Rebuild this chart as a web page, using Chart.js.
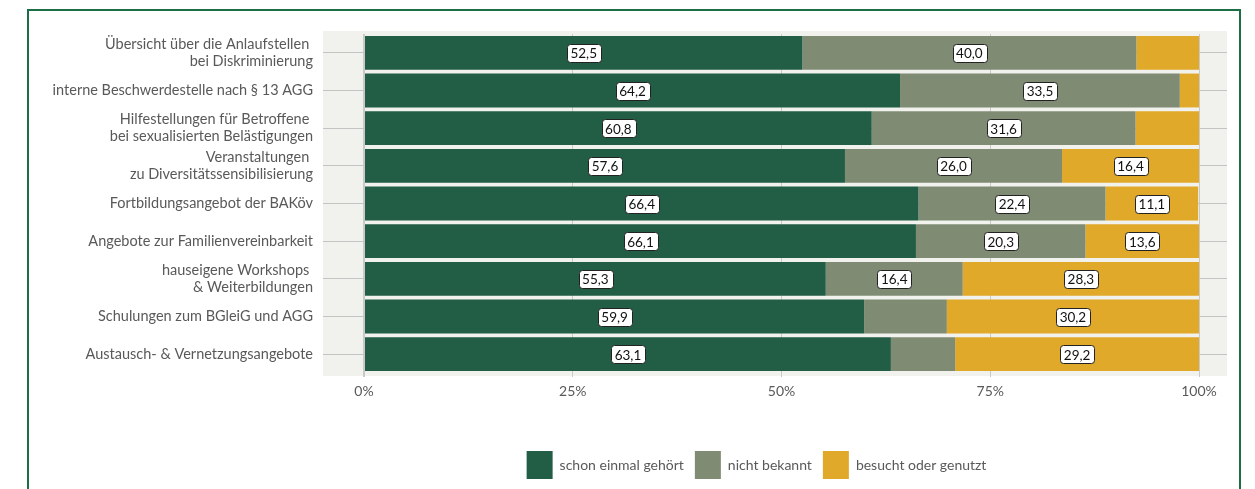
<!DOCTYPE html>
<html lang="de">
<head>
<meta charset="utf-8">
<script src="https://cdn.jsdelivr.net/npm/chart.js@4.4.1/dist/chart.umd.min.js"></script>
<style>
html,body{margin:0;padding:0;background:#fff;}
body{width:1255px;height:489px;position:relative;overflow:hidden;}
#frame{position:absolute;left:27px;top:9px;width:1210px;height:520px;border:2px solid #1e6e45;}
#wrap{position:absolute;left:0;top:0;width:1255px;height:489px;}
</style>
</head>
<body>
<div id="frame"></div>
<div id="wrap"><canvas id="chart"></canvas></div>
<script>
const categories = [
    ["Übersicht über die Anlaufstellen ", "bei Diskriminierung"],
    "interne Beschwerdestelle nach § 13 AGG",
    ["Hilfestellungen für Betroffene ", "bei sexualisierten Belästigungen"],
    ["Veranstaltungen ", "zu Diversitätssensibilisierung"],
    "Fortbildungsangebot der BAKöv",
    "Angebote zur Familienvereinbarkeit",
    ["hauseigene Workshops ", "& Weiterbildungen"],
    "Schulungen zum BGleiG und AGG",
    "Austausch- & Vernetzungsangebote"
];
const gehoert      = [52.5, 64.2, 60.8, 57.6, 66.4, 66.1, 55.3, 59.9, 63.1];
const nichtBekannt = [40.0, 33.5, 31.6, 26.0, 22.4, 20.3, 16.4,  9.9,  7.7];
const genutzt      = [ 7.5,  2.3,  7.6, 16.4, 11.1, 13.6, 28.3, 30.2, 29.2];
const seriesNames  = ["schon einmal gehört", "nicht bekannt", "besucht oder genutzt"];
const tickValues   = [0, 25, 50, 75, 100];

const FONT = "Lato";
const GREY = "#595959";

/* light panel behind the plot */
const plotBackground = {
    id: "plotBackground",
    beforeDraw(chart){
        const {ctx, chartArea:a} = chart;
        ctx.save();
        ctx.fillStyle = "#f1f2ee";
        ctx.fillRect(a.left - 41, a.top - 3, a.right - a.left + 69, a.bottom - a.top + 6);
        ctx.restore();
    }
};

/* boxed value labels (small segments stay unlabelled) */
const valueLabels = {
    id: "valueLabels",
    afterDatasetsDraw(chart){
        const ctx = chart.ctx;
        ctx.save();
        ctx.font = "13.5px " + FONT;
        ctx.textAlign = "center";
        ctx.textBaseline = "middle";
        chart.data.datasets.forEach((ds, i) => {
            chart.getDatasetMeta(i).data.forEach((bar, j) => {
                const v = ds.data[j];
                if(v < 10) return;
                const txt = v.toFixed(1).replace(".", ",");
                const w = ctx.measureText(txt).width + 7;
                const h = 18;
                const cx = (bar.x + bar.base) / 2;
                ctx.beginPath();
                ctx.roundRect(Math.round(cx - w/2) + 0.5, Math.round(bar.y - h/2) + 0.5, Math.round(w), h, 3);
                ctx.fillStyle = "#fff";
                ctx.fill();
                ctx.lineWidth = 1;
                ctx.strokeStyle = "#222";
                ctx.stroke();
                ctx.fillStyle = "#111";
                ctx.fillText(txt, cx, bar.y + 1);
            });
        });
        ctx.restore();
    }
};

/* nudge the legend to the right, like the original */
const legendShift = {
    id: "legendShift",
    afterLayout(chart){
        chart.legend.left += 143;
        chart.legend.right += 143;
    }
};

new Chart(document.getElementById("chart"), {
    type: "bar",
    data: {
        labels: categories,
        datasets: [
            {label: seriesNames[0], data: gehoert,      backgroundColor: "#215e45"},
            {label: seriesNames[1], data: nichtBekannt, backgroundColor: "#7f8c73"},
            {label: seriesNames[2], data: genutzt,      backgroundColor: "#e1a929"}
        ]
    },
    options: {
        indexAxis: "y",
        responsive: true,
        maintainAspectRatio: false,
        animation: false,
        datasets: {bar: {barPercentage: 0.9, categoryPercentage: 1, borderWidth: 0}},
        layout: {padding: {top: 34, left: 0, right: 28, bottom: 0}},
        plugins: {
            legend: {
                position: "bottom",
                labels: {boxWidth: 26, boxHeight: 28, padding: 11, color: GREY, font: {family: FONT, size: 14}}
            },
            tooltip: {enabled: false}
        },
        scales: {
            x: {
                stacked: true,
                min: 0,
                max: 100,
                border: {display: false},
                grid: {color: "#c9c9c9", lineWidth: c => (c.tick && c.tick.value === 0) ? 2 : 1, tickLength: 4},
                afterBuildTicks: s => { s.ticks = tickValues.map(v => ({value: v})); },
                ticks: {padding: 6, color: GREY, font: {family: FONT, size: 14}, callback: v => v + "%"},
                afterFit: s => { s.height = 67; }
            },
            y: {
                stacked: true,
                border: {display: false},
                grid: {offset: false, color: "#c4c4c4", tickLength: 41},
                ticks: {padding: 10, color: GREY, font: {family: FONT, size: 14.5, lineHeight: 1.18}},
                afterFit: s => { s.width = 364; }
            },
            y2: {
                type: "category",
                position: "right",
                labels: categories,
                offset: true,
                border: {display: false},
                grid: {offset: false, drawOnChartArea: false, color: "#c4c4c4", tickLength: 28},
                ticks: {display: false},
                afterFit: s => { s.width = 28; }
            }
        }
    },
    plugins: [plotBackground, valueLabels, legendShift]
});
</script>
</body>
</html>
